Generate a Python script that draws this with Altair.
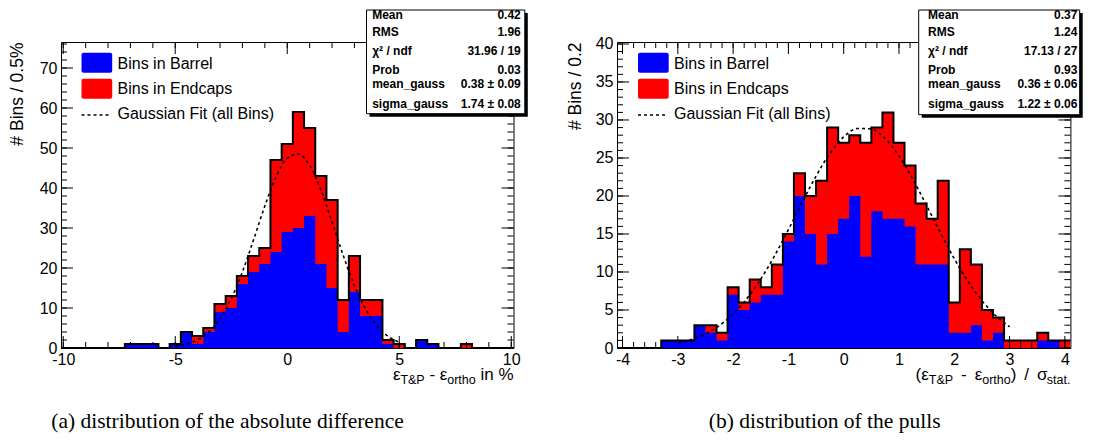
import altair as alt
import pandas as pd

FONT = "Liberation Sans"
SERIF = "Liberation Serif"

# ---------------- panel (a): absolute difference ----------------
a_centers = [-10.0, -9.5, -9.0, -8.5, -8.0, -7.5, -7.0, -6.5, -6.0, -5.5, -5.0,
             -4.5, -4.0, -3.5, -3.0, -2.5, -2.0, -1.5, -1.0, -0.5, 0.0,
             0.5, 1.0, 1.5, 2.0, 2.5, 3.0, 3.5, 4.0, 4.5, 5.0,
             5.5, 6.0, 6.5, 7.0, 7.5, 8.0, 8.5, 9.0, 9.5, 10.0]
a_total = [0, 0, 0, 0, 0, 0, 1, 1, 1, 0, 1, 4, 3, 5, 11, 13, 18, 23, 25, 47, 51,
           59, 55, 43, 37, 12, 23, 12, 12, 2, 1, 0, 2, 1, 0, 0, 1, 0, 0, 0, 0]
a_barrel = [0, 0, 0, 0, 0, 0, 1, 1, 1, 0, 1, 4, 1, 4, 9, 10, 16, 19, 21, 24, 29,
            30, 33, 21, 15, 4, 14, 8, 8, 1, 0, 0, 2, 1, 0, 0, 0, 0, 0, 0, 0]
a_fit_x = [-5.0, -4.5, -4.0, -3.5, -3.0, -2.5, -2.0, -1.5, -1.0, -0.5, 0.0,
           0.5, 1.0, 1.5, 2.0, 2.5, 3.0, 3.5, 4.0, 4.5, 5.0]
a_fit_y = [0.41, 0.95, 2.05, 4.05, 7.36, 12.35, 19.07, 27.1, 35.5, 42.8, 47.45,
           48.5, 45.6, 39.5, 31.5, 23.1, 15.6, 9.7, 5.6, 2.95, 1.43]
a_stat_labels = ["Mean", "RMS", "χ² / ndf", "Prob", "mean_gauss", "sigma_gauss"]
a_stat_values = ["0.42", "1.96", "31.96 / 19", "0.03", "0.38 ± 0.09", "1.74 ± 0.08"]
a_xticks_major = [-10, -5, 0, 5, 10]
a_xticks_minor = [-10, -9, -8, -7, -6, -5, -4, -3, -2, -1, 0, 1, 2, 3, 4, 5, 6, 7, 8, 9, 10]
a_yticks_major = [0, 10, 20, 30, 40, 50, 60, 70]
a_yticks_minor = [0, 2, 4, 6, 8, 10, 12, 14, 16, 18, 20, 22, 24, 26, 28, 30, 32, 34, 36,
                  38, 40, 42, 44, 46, 48, 50, 52, 54, 56, 58, 60, 62, 64, 66, 68, 70,
                  72, 74, 76]

# ---------------- panel (b): pulls ----------------
b_centers = [-4.0, -3.8, -3.6, -3.4, -3.2, -3.0, -2.8, -2.6, -2.4, -2.2, -2.0,
             -1.8, -1.6, -1.4, -1.2, -1.0, -0.8, -0.6, -0.4, -0.2, 0.0,
             0.2, 0.4, 0.6, 0.8, 1.0, 1.2, 1.4, 1.6, 1.8, 2.0,
             2.2, 2.4, 2.6, 2.8, 3.0, 3.2, 3.4, 3.6, 3.8, 4.0]
b_total = [0, 0, 0, 0, 1, 1, 1, 3, 3, 2, 8, 6, 9, 8, 11, 15, 23, 20, 22, 29, 27,
           28, 27, 29, 31, 27, 24, 19, 17, 22, 6, 13, 11, 5, 4, 1, 1, 1, 2, 1, 1]
b_barrel = [0, 0, 0, 0, 1, 1, 1, 3, 2, 1, 7, 5, 6, 7, 7, 14, 20, 15, 11, 15, 17,
            20, 12, 18, 17, 17, 16, 11, 11, 11, 2, 2, 3, 1, 2, 0, 0, 0, 1, 1, 0]
b_fit_x = [-3.0, -2.75, -2.5, -2.25, -2.0, -1.75, -1.5, -1.25, -1.0, -0.75, -0.5,
           -0.25, 0.0, 0.25, 0.5, 0.75, 1.0, 1.25, 1.5, 1.75, 2.0, 2.25, 2.5, 2.75, 3.0]
b_fit_y = [0.65, 1.13, 1.86, 2.94, 4.47, 6.5, 9.07, 12.14, 15.58, 19.17, 22.62,
           25.59, 27.77, 28.88, 28.81, 27.55, 25.27, 22.23, 18.74, 15.16, 11.75,
           8.73, 6.23, 4.26, 2.79]
b_stat_labels = ["Mean", "RMS", "χ² / ndf", "Prob", "mean_gauss", "sigma_gauss"]
b_stat_values = ["0.37", "1.24", "17.13 / 27", "0.93", "0.36 ± 0.06", "1.22 ± 0.06"]
b_xticks_major = [-4, -3, -2, -1, 0, 1, 2, 3, 4]
b_xticks_minor = [round(-4 + 0.2 * i, 1) for i in range(41)]
b_yticks_major = [0, 5, 10, 15, 20, 25, 30, 35, 40]
b_yticks_minor = list(range(0, 41))

legend_labels = ["Bins in Barrel", "Bins in Endcaps", "Gaussian Fit (all Bins)"]

# ---------------- helpers ----------------
CHARW = {' ': 278, '(': 333, ')': 333, '/': 278, '-': 333, '%': 889, '&': 667,
         '.': 278, 'T': 611, 'P': 667, 'a': 556, 'c': 500, 'h': 556, 'i': 222,
         'n': 556, 'o': 556, 'r': 333, 's': 500, 't': 278, 'ε': 440, 'σ': 570}


def textw(s, size):
    return sum(CHARW.get(c, 556) for c in s) / 1000.0 * size


def one():
    return pd.DataFrame({"d": [0]})


def txt(s, x, y, size=16, align="left", baseline="alphabetic", weight="normal",
        font=FONT):
    return alt.Chart(pd.DataFrame({"t": [s]})).mark_text(
        align=align, baseline=baseline, fontSize=size, font=font,
        fontWeight=weight, color="black").encode(
        text="t:N", x=alt.value(x), y=alt.value(y))


def rect(x0, x1, y0, y1, **kw):
    return alt.Chart(one()).mark_rect(**kw).encode(
        x=alt.value(x0), x2=alt.value(x1), y=alt.value(y0), y2=alt.value(y1))


def rule(x0, x1, y0, y1, **kw):
    return alt.Chart(one()).mark_rule(**kw).encode(
        x=alt.value(x0), x2=alt.value(x1), y=alt.value(y0), y2=alt.value(y1))


def chain(segs, x_end, y_base):
    """segments: (text, size, dy, gap_before). Laid out so the text ends at x_end."""
    total = sum(textw(s, sz) + g for s, sz, dy, g in segs)
    x = x_end - total
    layers = []
    for s, sz, dy, g in segs:
        x += g
        layers.append(txt(s, x, y_base + dy, size=sz))
        x += textw(s, sz)
    return layers


def panel(centers, binw, total, barrel, fit_x, fit_y, xdom, ydom, W, H,
          xmaj, xmin, ymaj, ymin, ytitle, ytitle_x, labels, values, box,
          xsegs, caption, cap_x, leg_x, leg_tx):
    lo = [c - binw / 2 for c in centers]
    step = pd.DataFrame({"x": lo + [centers[-1] + binw / 2],
                         "total": total + [total[-1]],
                         "barrel": barrel + [barrel[-1]]})
    xs = alt.Scale(domain=xdom, nice=False, zero=False)
    ys = alt.Scale(domain=ydom, nice=False, zero=False)
    xaxis = alt.Axis(values=xmaj, ticks=False, tickSize=0, domain=False, grid=False,
                     labelFont=FONT, labelFontSize=16, labelColor="black",
                     labelPadding=3, labelFlush=False, labelOverlap=False,
                     labelExpr="toString(datum.value)", title=None)
    yaxis = alt.Axis(values=ymaj, ticks=False, tickSize=0, domain=False, grid=False,
                     labelFont=FONT, labelFontSize=16, labelColor="black",
                     labelPadding=4, labelFlush=False, labelOverlap=False,
                     labelExpr="toString(datum.value)",
                     title=ytitle, titleFont=FONT, titleFontSize=17.5,
                     titleFontWeight="normal", titleColor="black",
                     titleAngle=270, titleAlign="right", titleBaseline="alphabetic",
                     titleX=ytitle_x, titleY=0)

    def X(f):
        return alt.X(f, scale=xs, axis=xaxis)

    def Y(f):
        return alt.Y(f, scale=ys, axis=yaxis)

    ticks = []
    # ticks (ROOT style, inside, all four sides)
    for vals, ln in ((xmin, 6), (xmaj, 12)):
        d = alt.Chart(pd.DataFrame({"x": vals}))
        ticks.append(d.mark_rule(color="black", strokeWidth=1).encode(
            x=X("x:Q"), y=alt.value(H), y2=alt.value(H - ln)))
        ticks.append(d.mark_rule(color="black", strokeWidth=1).encode(
            x=X("x:Q"), y=alt.value(0), y2=alt.value(ln)))
    for vals, ln in ((ymin, 6), (ymaj, 12)):
        d = alt.Chart(pd.DataFrame({"total": vals}))
        ticks.append(d.mark_rule(color="black", strokeWidth=1).encode(
            y=Y("total:Q"), x=alt.value(0), x2=alt.value(ln)))
        ticks.append(d.mark_rule(color="black", strokeWidth=1).encode(
            y=Y("total:Q"), x=alt.value(W), x2=alt.value(W - ln)))

    base = alt.Chart(step)
    red = base.mark_area(interpolate="step-after", color="#ff0000", opacity=1,
                         clip=True).encode(x=X("x:Q"), y=Y("total:Q"))
    blue = base.mark_area(interpolate="step-after", color="#0000ff", opacity=1,
                          clip=True).encode(x=X("x:Q"), y=Y("barrel:Q"))
    outline = base.mark_line(interpolate="step-after", color="black", strokeWidth=2,
                             clip=True).encode(x=X("x:Q"), y=Y("total:Q"))
    fit = alt.Chart(pd.DataFrame({"x": fit_x, "total": fit_y})).mark_line(
        interpolate="monotone", color="black", strokeWidth=1.6,
        strokeDash=[3, 3], clip=True).encode(x=X("x:Q"), y=Y("total:Q"))
    layers = [red] + ticks + [blue, outline, fit]

    # legend
    layers.append(rect(leg_x, leg_x + 30.7, 10.7, 30.7, fill="#0000ff", cornerRadius=2))
    layers.append(rect(leg_x, leg_x + 30.7, 36.7, 56.7, fill="#ff0000", cornerRadius=2))
    layers.append(rule(leg_x, leg_x + 27.3, 73, 73, color="black", strokeWidth=1.6,
                       strokeDash=[3, 3]))
    for lab, yy in zip(legend_labels, (21.7, 46.7, 71.7)):
        layers.append(txt(lab, leg_tx, yy, size=16, baseline="middle"))

    # statistics box
    bx0, bx1, by0, by1, tl, tr = box
    layers.append(rect(bx0 + 3, bx1 + 3, by0 + 3, by1 + 3, fill="black"))
    layers.append(rect(bx0, bx1, by0, by1, fill="white", stroke="black", strokeWidth=1))
    for lab, val, yy in zip(labels, values, (-26.7, -10.0, 9.3, 28.3, 41.7, 61.7)):
        layers.append(txt(lab, tl, yy, size=12, baseline="middle", weight="bold"))
        layers.append(txt(val, tr, yy, size=12, baseline="middle", weight="bold",
                          align="right"))

    # x-axis title with subscripts
    layers += chain(xsegs, W, H + 32)

    # caption
    layers.append(txt(caption, cap_x, H + 80, size=21.5, align="center", font=SERIF))

    return alt.layer(*layers).properties(width=W, height=H)


left = panel(a_centers, 0.5, a_total, a_barrel, a_fit_x, a_fit_y,
             [-10.1, 10.1], [0, 76.5], 452.5, 306,
             a_xticks_major, a_xticks_minor, a_yticks_major, a_yticks_minor,
             "# Bins / 0.5%", -38.3, a_stat_labels, a_stat_values,
             (305.5, 463.8, -32, 71.7, 311.2, 459.8),
             [("ε", 17, 0, 0), ("T&P", 12.5, 4, 0), ("-", 17, 0, 4.7),
              ("ε", 17, 0, 4.7), ("ortho", 12.5, 4, 0), ("in %", 17, 0, 4.7)],
             "(a) distribution of the absolute difference", 166.5, 20.5, 56.5)

right = panel(b_centers, 0.2, b_total, b_barrel, b_fit_x, b_fit_y,
              [-4.1, 4.1], [0, 40.26], 453.4, 306,
              b_xticks_major, b_xticks_minor, b_yticks_major, b_yticks_minor,
              "# Bins / 0.2", -36.1, b_stat_labels, b_stat_values,
              (301.7, 462.7, -32, 72.7, 311.0, 460.4),
              [("(ε", 17, 0, 0), ("T&P", 12.5, 4, 0), ("-", 17, 0, 8),
               ("ε", 17, 0, 8), ("ortho", 12.5, 4, 0), (")", 17, 0, 0),
               ("/", 17, 0, 8), ("σ", 17, 0, 8), ("stat.", 12.5, 4, 0)],
              "(b) distribution of the pulls", 207.7, 21.0, 57.0)

chart = alt.hconcat(left, right, spacing=37).properties(
    padding={"left": 0, "top": 0, "right": 0, "bottom": 0},
    background="white",
).configure_view(stroke="black", strokeWidth=1)

chart.save("out.html", embed_options={"renderer": "svg", "actions": False})
